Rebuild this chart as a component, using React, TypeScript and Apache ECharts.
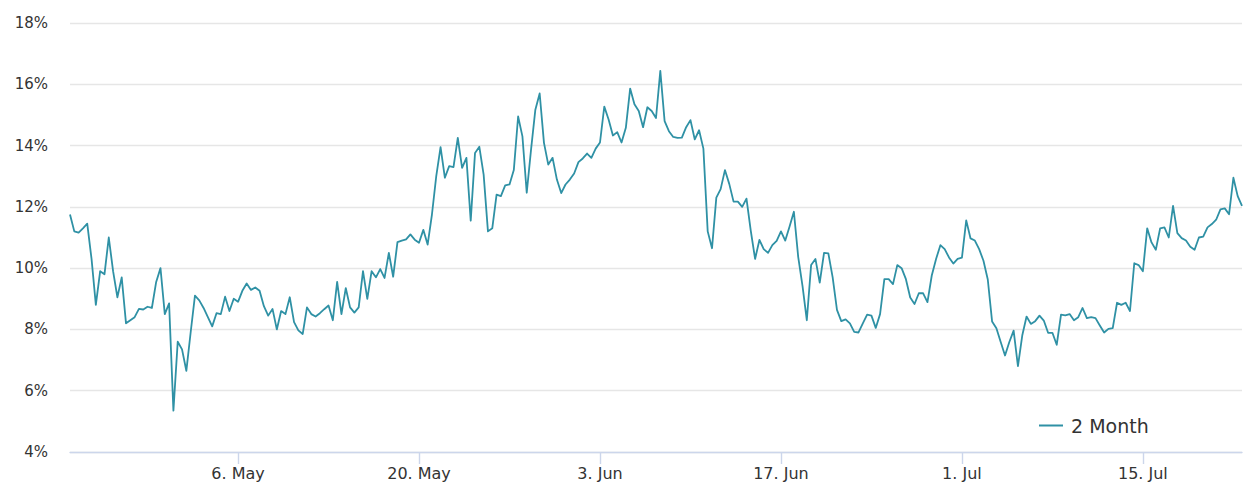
import React, { useEffect, useRef } from "react";
import * as echarts from "echarts";

// Series: 2-month rate (%), one reading every 8 hours starting 23 Apr 2019 00:00 UTC
const SERIES_NAME = "2 Month";
const START_DATE = "2019-04-23T00:00:00Z";
const STEP_HOURS = 8;

const rates: number[] = [
  11.75, 11.2, 11.16, 11.3, 11.45, 10.3, 8.8, 9.9, 9.8, 11.0,
  9.9, 9.05, 9.7, 8.2, 8.3, 8.4, 8.67, 8.65, 8.74, 8.7,
  9.55, 10.0, 8.5, 8.85, 5.35, 7.6, 7.35, 6.65, 7.9, 9.1,
  8.95, 8.7, 8.4, 8.1, 8.53, 8.5, 9.07, 8.6, 9.0, 8.9,
  9.26, 9.5, 9.29, 9.37, 9.26, 8.76, 8.45, 8.67, 8.0, 8.6,
  8.5, 9.05, 8.24, 7.97, 7.85, 8.72, 8.5, 8.42, 8.53, 8.66,
  8.78, 8.3, 9.55, 8.5, 9.35, 8.72, 8.55, 8.72, 9.9, 9.0,
  9.9, 9.7, 9.97, 9.68, 10.5, 9.72, 10.85, 10.9, 10.94, 11.1,
  10.93, 10.83, 11.25, 10.77, 11.75, 13.0, 13.95, 12.95, 13.33, 13.3,
  14.25, 13.27, 13.6, 11.55, 13.76, 13.96, 13.05, 11.2, 11.3, 12.4,
  12.35, 12.7, 12.73, 13.2, 14.95, 14.3, 12.46, 13.87, 15.17, 15.7,
  14.09, 13.38, 13.6, 12.89, 12.45, 12.73, 12.89, 13.09, 13.46, 13.58,
  13.74, 13.6, 13.9, 14.1, 15.27, 14.85, 14.33, 14.44, 14.1, 14.58,
  15.86, 15.35, 15.13, 14.6, 15.25, 15.13, 14.9, 16.44, 14.8, 14.47,
  14.28, 14.25, 14.26, 14.6, 14.83, 14.2, 14.5, 13.9, 11.2, 10.65,
  12.3, 12.58, 13.2, 12.75, 12.17, 12.17, 12.0, 12.27, 11.22, 10.3,
  10.92, 10.62, 10.5, 10.75, 10.89, 11.2, 10.9, 11.36, 11.84, 10.37,
  9.42, 8.3, 10.1, 10.3, 9.53, 10.5, 10.48, 9.7, 8.64, 8.27,
  8.33, 8.2, 7.92, 7.9, 8.2, 8.48, 8.45, 8.05, 8.5, 9.64,
  9.64, 9.48, 10.1, 10.0, 9.64, 9.04, 8.83, 9.18, 9.18, 8.89,
  9.76, 10.3, 10.75, 10.62, 10.35, 10.15, 10.3, 10.34, 11.56, 10.97,
  10.9, 10.62, 10.24, 9.63, 8.26, 8.04, 7.59, 7.15, 7.59, 7.96,
  6.8, 7.8, 8.42, 8.18, 8.27, 8.45, 8.29, 7.89, 7.89, 7.5,
  8.48, 8.46, 8.5, 8.3, 8.4, 8.7, 8.37, 8.4, 8.37, 8.13,
  7.9, 8.02, 8.04, 8.87, 8.8, 8.87, 8.6, 10.16, 10.1, 9.9,
  11.3, 10.84, 10.6, 11.3, 11.33, 11.0, 12.03, 11.14, 10.98, 10.9,
  10.7, 10.6, 11.0, 11.03, 11.33, 11.44, 11.58, 11.92, 11.95, 11.76,
  12.95, 12.35, 12.03,
];

// x-axis tick dates (two-week Mondays)
const tickDates: string[] = [
  "2019-05-06T00:00:00Z",
  "2019-05-20T00:00:00Z",
  "2019-06-03T00:00:00Z",
  "2019-06-17T00:00:00Z",
  "2019-07-01T00:00:00Z",
  "2019-07-15T00:00:00Z",
];
const monthNames: string[] = ["Jan", "Feb", "Mar", "Apr", "May", "Jun", "Jul", "Aug", "Sep", "Oct", "Nov", "Dec"];

// y-axis range (%)
const Y_MIN = 4;
const Y_MAX = 18;
const Y_STEP = 2;

const FONT = "'DejaVu Sans', Verdana, sans-serif";
const LINE_COLOR = "#2f91a5";

export default function App() {
  const ref = useRef<HTMLDivElement>(null);

  useEffect(() => {
    if (!ref.current) return;
    const chart = echarts.init(ref.current, null, { renderer: "svg" });
    const start = Date.parse(START_DATE);
    const step = STEP_HOURS * 3600 * 1000;
    const data = rates.map((v, i) => [start + i * step, v]);
    const ticks = tickDates.map((d) => Date.parse(d));
    const fmtDate = (v: number) => {
      const d = new Date(v);
      return `${d.getUTCDate()}. ${monthNames[d.getUTCMonth()]}`;
    };

    chart.setOption({
      animation: false,
      backgroundColor: "#ffffff",
      grid: { left: 70, right: 12, top: 23, bottom: 44, containLabel: false },
      legend: {
        show: true,
        left: 1039,
        top: 416,
        padding: 0,
        icon: "rect",
        itemWidth: 24,
        itemHeight: 2,
        itemGap: 10,
        itemStyle: { color: LINE_COLOR, borderWidth: 0 },
        textStyle: { fontFamily: FONT, fontSize: 19, color: "#333333", padding: [0, 0, 0, 3] },
        data: [SERIES_NAME],
      },
      xAxis: {
        type: "value",
        min: start,
        max: start + (rates.length - 1) * step,
        axisLine: { show: true, lineStyle: { color: "#ccd6eb", width: 1.4 } },
        axisTick: {
          show: true,
          length: 12,
          customValues: ticks,
          lineStyle: { color: "#ccd6eb", width: 1.4 },
        },
        axisLabel: {
          customValues: ticks,
          formatter: (v: number) => fmtDate(v),
          fontFamily: FONT,
          fontSize: 16,
          color: "#333333",
          margin: 13,
        },
        splitLine: { show: false },
      },
      yAxis: {
        type: "value",
        min: Y_MIN,
        max: Y_MAX,
        interval: Y_STEP,
        axisLine: { show: false },
        axisTick: { show: false },
        axisLabel: {
          formatter: "{value}%",
          fontFamily: FONT,
          fontSize: 15,
          color: "#333333",
          margin: 22,
        },
        splitLine: { show: true, lineStyle: { color: "#e6e6e6", width: 1.4 } },
      },
      series: [
        {
          name: SERIES_NAME,
          type: "line",
          data,
          symbol: "none",
          showSymbol: false,
          lineStyle: { color: LINE_COLOR, width: 1.8, join: "round" },
          itemStyle: { color: LINE_COLOR },
        },
      ],
    });

    return () => chart.dispose();
  }, []);

  return (
    <div
      ref={ref}
      style={{ position: "fixed", left: 0, top: 0, width: 1254, height: 496, background: "#ffffff" }}
    />
  );
}
